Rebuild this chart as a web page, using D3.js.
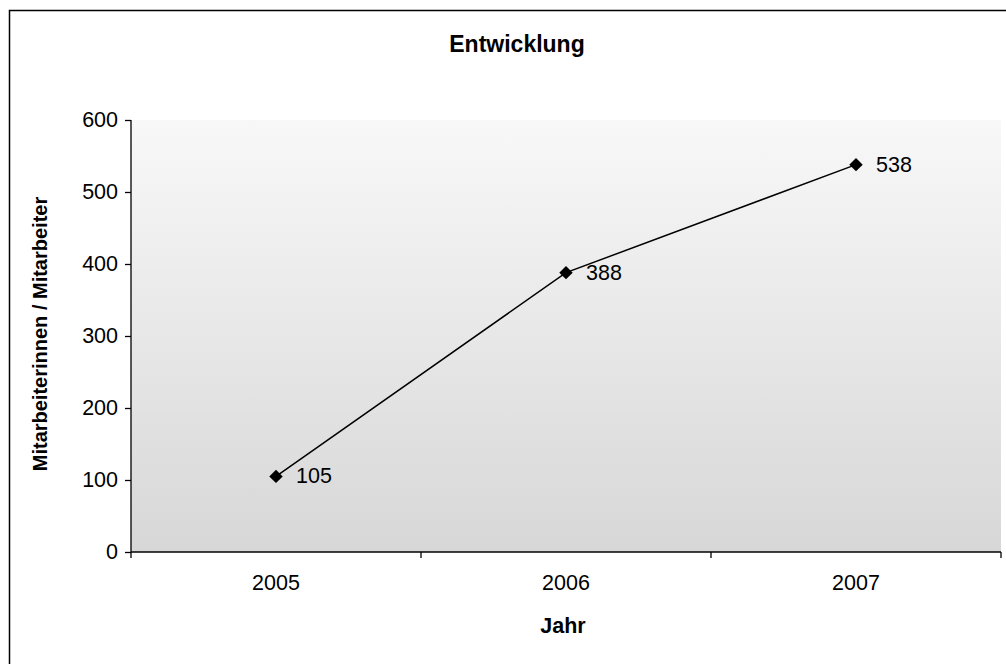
<!DOCTYPE html>
<html>
<head>
<meta charset="utf-8">
<script src="https://cdn.jsdelivr.net/npm/d3@7"></script>
<style>
  html, body { margin: 0; padding: 0; background: #fff; }
  svg { display: block; font-family: "Liberation Sans", Arial, sans-serif; }
</style>
</head>
<body>
<svg id="chart" width="1006" height="664"></svg>
<script>
// Staff development per year
const years = ["2005", "2006", "2007"];
const staff = [105, 388, 538];
const yTicks = [0, 100, 200, 300, 400, 500, 600];

const svg = d3.select("#chart");
const m = { left: 131, right: 1001, top: 120, bottom: 552 };

// outer frame
svg.append("rect")
  .attr("x", 9.5).attr("y", 10.5)
  .attr("width", 1010).attr("height", 670)
  .attr("fill", "#fff").attr("stroke", "#000").attr("stroke-width", 1.5);

const x = d3.scaleBand().domain(years).range([m.left, m.right]);
const y = d3.scaleLinear().domain([0, 600]).range([m.bottom, m.top]);

// plot area background gradient
const defs = svg.append("defs");
const grad = defs.append("linearGradient")
  .attr("id", "bg").attr("x1", 0).attr("y1", 0).attr("x2", 0).attr("y2", 1);
grad.append("stop").attr("offset", "0%").attr("stop-color", "#f8f8f8");
grad.append("stop").attr("offset", "100%").attr("stop-color", "#d7d7d7");

svg.append("rect")
  .attr("x", m.left).attr("y", m.top)
  .attr("width", m.right - m.left).attr("height", m.bottom - m.top)
  .attr("fill", "url(#bg)");

// y axis
const yAxis = svg.append("g")
  .attr("transform", `translate(${m.left},0)`)
  .call(d3.axisLeft(y).tickValues(yTicks).tickSize(6).tickPadding(7));
yAxis.selectAll("text").attr("font-size", 21.5).attr("fill", "#000")
  .attr("font-family", "Liberation Sans, Arial, sans-serif");
yAxis.selectAll("line, path").attr("stroke", "#000").attr("stroke-width", 1.3);
yAxis.select(".domain").attr("d", `M0,${m.top}V${m.bottom}`);

// x axis: ticks at category boundaries
const xg = svg.append("g").attr("transform", `translate(0,${m.bottom})`);
xg.append("line").attr("x1", m.left).attr("x2", m.right)
  .attr("stroke", "#000").attr("stroke-width", 1.3);
const bounds = years.map(d => x(d)).concat([x(years[years.length - 1]) + x.bandwidth()]);
xg.selectAll("line.tick").data(bounds).join("line")
  .attr("class", "tick")
  .attr("x1", d => d).attr("x2", d => d)
  .attr("y1", 0).attr("y2", 6)
  .attr("stroke", "#000").attr("stroke-width", 1.3);
xg.selectAll("text").data(years).join("text")
  .attr("x", d => x(d) + x.bandwidth() / 2)
  .attr("y", 38)
  .attr("text-anchor", "middle")
  .attr("font-size", 21.5)
  .text(d => d);

// line
const pts = years.map((d, i) => [x(d) + x.bandwidth() / 2, y(staff[i])]);
svg.append("path")
  .attr("d", d3.line()(pts))
  .attr("fill", "none").attr("stroke", "#000").attr("stroke-width", 1.5);

// diamond markers
svg.selectAll("path.marker").data(pts).join("path")
  .attr("class", "marker")
  .attr("d", d3.symbol(d3.symbolDiamond2, 115))
  .attr("transform", d => `translate(${d[0]},${d[1]})`)
  .attr("fill", "#000");

// value labels
svg.selectAll("text.val").data(pts).join("text")
  .attr("class", "val")
  .attr("x", d => d[0] + 20)
  .attr("y", d => d[1] + 7)
  .attr("font-size", 21.5)
  .text((d, i) => staff[i]);

// titles
svg.append("text")
  .attr("x", 517).attr("y", 52)
  .attr("text-anchor", "middle").attr("font-size", 23).attr("font-weight", "bold")
  .text("Entwicklung");

svg.append("text")
  .attr("x", 563).attr("y", 633)
  .attr("text-anchor", "middle").attr("font-size", 21.5).attr("font-weight", "bold")
  .text("Jahr");

svg.append("text")
  .attr("transform", "translate(47,334) rotate(-90)")
  .attr("text-anchor", "middle").attr("font-size", 20).attr("font-weight", "bold")
  .text("Mitarbeiterinnen / Mitarbeiter");
</script>
</body>
</html>
